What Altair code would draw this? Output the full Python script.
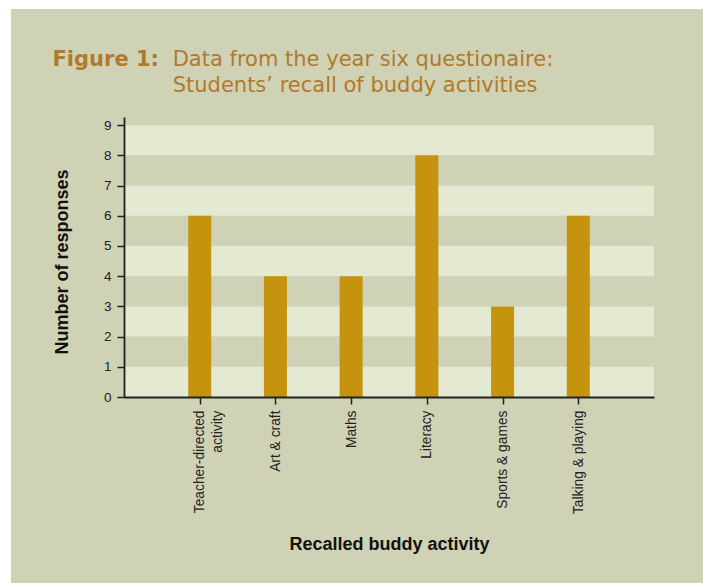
import altair as alt
import pandas as pd

# ---- data ----
categories = ["Teacher-directed activity", "Art & craft", "Maths", "Literacy",
              "Sports & games", "Talking & playing"]
responses = [6, 4, 4, 8, 3, 6]
stripe_lo = [0, 2, 4, 6, 8]
stripe_hi = [1, 3, 5, 7, 9]
y_ticks = [0, 1, 2, 3, 4, 5, 6, 7, 8, 9]
title_bold = "Figure 1:"
title_lines = ["Data from the year six questionaire:",
               "Students\u2019 recall of buddy activities"]
x_title = "Recalled buddy activity"
y_title = "Number of responses"

BG = "#cfd2b4"
LIGHT = "#e4e9d1"
BAR = "#c5930e"
TITLE_C = "#b07a2c"
INK = "#222222"
FONT = "Liberation Sans"

bars_df = pd.DataFrame({"activity": categories, "responses": responses})
stripes_df = pd.DataFrame({"lo": stripe_lo, "hi": stripe_hi})
one = pd.DataFrame({"k": [0]})

W, H = 530, 280
PL, PT = 124, 117

frame = alt.Chart(one).mark_rect(color=BG).encode(
    x=alt.value(11 - PL), x2=alt.value(703 - PL),
    y=alt.value(9 - PT), y2=alt.value(583 - PT),
)

yscale = alt.Scale(domain=[0, 9.27], nice=False, zero=True)
yaxis = alt.Axis(
    title=y_title, values=y_ticks, labelFontSize=13.5,
    labelFont=FONT, labelColor=INK, labelPadding=6,
    tickSize=7, tickWidth=1.5, tickColor=INK,
    domainColor=INK, domainWidth=1.8,
    titleFont=FONT, titleFontSize=18, titleFontWeight="bold",
    titleColor="#111111", titleAngle=270, titleAlign="center",
    titleBaseline="alphabetic", titleX=-56.5, titleY=144.5,
    zindex=2, grid=False)

stripes = alt.Chart(stripes_df).mark_rect(color=LIGHT).encode(
    y=alt.Y("lo:Q", scale=yscale, axis=yaxis),
    y2="hi:Q",
)

bars = alt.Chart(bars_df).mark_bar(color=BAR, size=23).encode(
    x=alt.X("activity:N", sort=categories,
            scale=alt.Scale(type="point", padding=1),
            axis=alt.Axis(
                title=x_title, labelAngle=270, labelAlign="right",
                labelBaseline="middle", labelFontSize=13.8, labelFont=FONT,
                labelColor=INK, labelPadding=6, labelLineHeight=17.5,
                labelExpr="datum.value == 'Teacher-directed activity' ? ['Teacher-directed', 'activity'] : datum.label",
                tickSize=7, tickWidth=1.5, tickColor=INK,
                domainColor=INK, domainWidth=1.8,
                titleFont=FONT, titleFontSize=18, titleFontWeight="bold",
                titleColor="#111111", titleAlign="center",
                titleBaseline="alphabetic", titleX=W / 2, titleY=152,
                zindex=2, grid=False)),
    y=alt.Y("responses:Q", scale=yscale, axis=yaxis),
)

t_bold = alt.Chart(one).mark_text(
    text=title_bold, font="DejaVu Sans", fontSize=21, fontWeight="bold",
    color=TITLE_C, align="left", baseline="alphabetic",
).encode(x=alt.value(52.5 - PL), y=alt.value(66 - PT))

t_l1 = alt.Chart(one).mark_text(
    text=title_lines[0], font="DejaVu Sans", fontSize=21,
    color=TITLE_C, align="left", baseline="alphabetic",
).encode(x=alt.value(172.7 - PL), y=alt.value(66 - PT))

t_l2 = alt.Chart(one).mark_text(
    text=title_lines[1], font="DejaVu Sans", fontSize=21,
    color=TITLE_C, align="left", baseline="alphabetic",
).encode(x=alt.value(172.7 - PL), y=alt.value(91.5 - PT))

chart = alt.layer(frame, stripes, bars, t_bold, t_l1, t_l2).properties(
    width=W, height=H,
    autosize=alt.AutoSizeParams(type="none"),
    padding={"left": PL, "top": PT, "right": 703 - PL - W, "bottom": 583 - PT - H},
    background="white",
).configure_view(strokeWidth=0, fill=None)

chart.save("out.html", embed_options={"renderer": "svg", "actions": False})
